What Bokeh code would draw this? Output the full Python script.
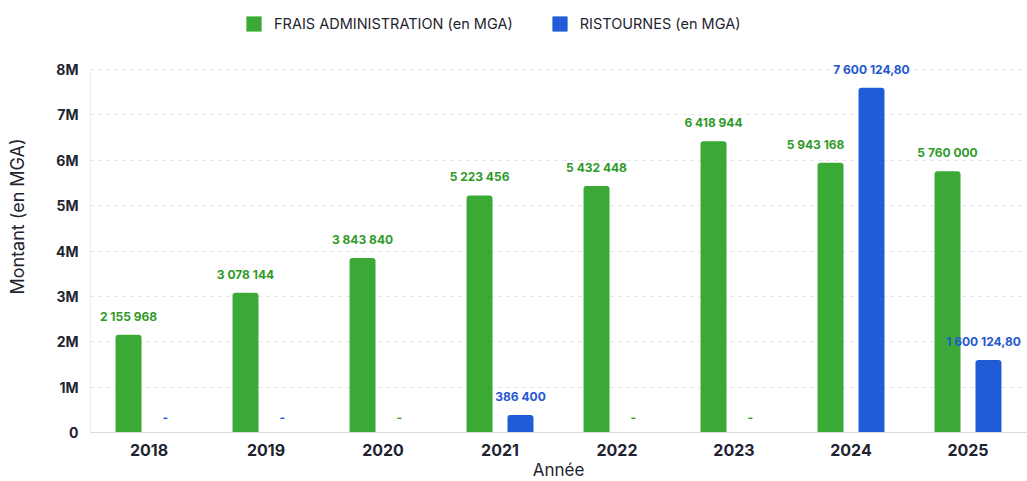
from bokeh.plotting import figure
from bokeh.models import ColumnDataSource, Legend, LegendItem, FixedTicker, Range1d
from bokeh.transform import dodge
from bokeh.core.properties import value
from bokeh.embed import file_html
from bokeh.resources import INLINE

years = ["2018", "2019", "2020", "2021", "2022", "2023", "2024", "2025"]
frais = [2155968, 3078144, 3843840, 5223456, 5432448, 6418944, 5943168, 5760000]
ristournes = [None, None, None, 386400, None, None, 7600124.80, 1600124.80]
y_ticks = [0, 1e6, 2e6, 3e6, 4e6, 5e6, 6e6, 7e6, 8e6]
y_tick_labels = ["0", "1M", "2M", "3M", "4M", "5M", "6M", "7M", "8M"]

# styling (colours of the "-" placeholders and label nudges in pixels)
null_label_colors = ["#2457cf", "#2457cf", "#34a02f", None, "#34a02f", "#34a02f", None, None]
green_label_dx = [0, 0, 0, 0, 0, 0, -15, 0]
blue_label_dx = [0, 0, 0, 0, 0, 0, 0, -5]

GREEN = "#3aa935"
BLUE = "#1f5cd6"
GREEN_TXT = "#2f9a2a"
BLUE_TXT = "#2457cf"
DARK = "#1f2430"
AXIS = "#d5d9e0"
FONT = "Inter"


def fmt(v):
    if v is None:
        return "-"
    if float(v) == int(v):
        return f"{int(v):,}".replace(",", " ")
    return f"{v:,.2f}".replace(",", " ").replace(".", ",")


# frame spans the full height; the top part holds the legend
y_top = y_ticks[-1] * 432 / 363
p = figure(x_range=years, y_range=Range1d(0, y_top),
           frame_width=936, frame_height=432,
           output_backend="svg", toolbar_location=None,
           min_border_left=90, min_border_right=1, min_border_top=0, min_border_bottom=0)
p.outline_line_color = None

src_g = ColumnDataSource(dict(x=years, v=frais, lab=[fmt(v) for v in frais], dx=green_label_dx))
rb = [(y, v, d) for y, v, d in zip(years, ristournes, blue_label_dx) if v is not None]
src_b = ColumnDataSource(dict(x=[a for a, _, _ in rb], v=[b for _, b, _ in rb],
                              lab=[fmt(b) for _, b, _ in rb], dx=[d for _, _, d in rb]))
nb = [(y, c) for y, v, c in zip(years, ristournes, null_label_colors) if v is None]
src_n = ColumnDataSource(dict(x=[a for a, _ in nb], v=[0] * len(nb), lab=["-"] * len(nb), c=[c for _, c in nb]))

# y axis line stopping at the top tick
p.segment(x0=dodge("x", -0.5, range=p.x_range), x1=dodge("x", -0.5, range=p.x_range),
          y0="y0", y1="y1", source=ColumnDataSource(dict(x=[years[0]], y0=[0], y1=[y_ticks[-1]])),
          line_color=AXIS, line_width=1)

OFF = 0.175
W = 0.222
rg = p.vbar(x=dodge("x", -OFF, range=p.x_range), top="v", width=W, source=src_g,
            fill_color=GREEN, line_color=None, border_radius=(3, 3, 0, 0))
rbl = p.vbar(x=dodge("x", OFF, range=p.x_range), top="v", width=W, source=src_b,
             fill_color=BLUE, line_color=None, border_radius=(3, 3, 0, 0))

p.text(x=dodge("x", -OFF, range=p.x_range), y="v", text="lab", source=src_g, x_offset="dx",
       text_align="center", text_baseline="bottom", y_offset=-11,
       text_font=value(FONT), text_font_size="12px", text_font_style="bold", text_color=GREEN_TXT)
p.text(x=dodge("x", OFF, range=p.x_range), y="v", text="lab", source=src_b, x_offset="dx",
       text_align="center", text_baseline="bottom", y_offset=-11,
       text_font=value(FONT), text_font_size="12px", text_font_style="bold", text_color=BLUE_TXT)
p.text(x=dodge("x", OFF - 0.035, range=p.x_range), y="v", text="lab", source=src_n,
       text_align="center", text_baseline="bottom", y_offset=-11,
       text_font=value(FONT), text_font_size="12px", text_font_style="bold", text_color="c")

# axes
p.yaxis.ticker = FixedTicker(ticks=y_ticks)
p.yaxis.major_label_overrides = {t: l for t, l in zip(y_ticks, y_tick_labels)}
for ax in (p.xaxis[0], p.yaxis[0]):
    ax.axis_line_color = AXIS
    ax.major_tick_line_color = None
    ax.minor_tick_line_color = None
    ax.major_tick_out = 0
    ax.major_tick_in = 0
    ax.minor_tick_out = 0
    ax.major_label_text_font = FONT
    ax.major_label_text_font_style = "bold"
    ax.major_label_text_color = DARK
    ax.axis_label_text_font = FONT
    ax.axis_label_text_font_style = "normal"
    ax.axis_label_text_color = DARK
p.yaxis.axis_line_color = None
p.yaxis.major_label_text_font_size = "14px"
p.xaxis.major_label_text_font_size = "16px"
p.yaxis.axis_label = "Montant (en MGA)"
p.yaxis.axis_label_text_font_size = "18px"
p.yaxis.major_label_standoff = 12
p.yaxis.axis_label_standoff = 25
p.xaxis.axis_label = "Année"
p.xaxis.axis_label_text_font_size = "17px"
p.xaxis.major_label_standoff = 11
p.xaxis.axis_label_standoff = 1

p.xgrid.grid_line_color = None
p.ygrid.grid_line_color = "#e3e6ea"
p.ygrid.grid_line_dash = "4 4"
p.ygrid.ticker = FixedTicker(ticks=y_ticks[1:])

legend = Legend(items=[LegendItem(label="FRAIS ADMINISTRATION (en MGA)", renderers=[rg]),
                       LegendItem(label="RISTOURNES (en MGA)", renderers=[rbl])],
                orientation="horizontal", location=(154, 399),
                glyph_width=19, glyph_height=19, label_text_font=FONT,
                label_text_font_size="14.5px", label_text_color=DARK,
                spacing=37, label_standoff=11, border_line_color=None,
                background_fill_alpha=0, margin=0, padding=4)
p.add_layout(legend, "center")

open("out.html", "w").write(file_html(p, INLINE))
